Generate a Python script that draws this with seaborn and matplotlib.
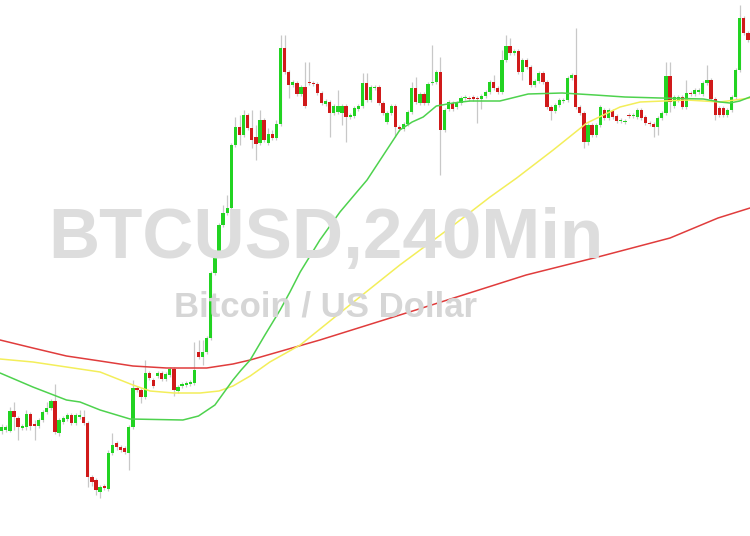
import matplotlib
matplotlib.use("Agg")
import matplotlib.pyplot as plt
import numpy as np
import pandas as pd
import seaborn as sns

# BTCUSD 240 min candles, one entry per bar
opens = [
    9569, 9570, 9569, 9589, 9582, 9572, 9573, 9586, 9576, 9574,
    9580, 9588, 9592, 9599, 9567, 9578, 9581, 9585, 9577, 9583,
    9583, 9577, 9523, 9520, 9508, 9514, 9511, 9547, 9557, 9553,
    9552, 9547, 9573, 9612, 9610, 9603, 9627, 9620, 9624, 9627,
    9621, 9625, 9631, 9609, 9614, 9615, 9616, 9617, 9648, 9643,
    9648, 9662, 9727, 9748, 9775, 9787, 9792, 9855, 9873, 9865,
    9885, 9872, 9863, 9857, 9880, 9857, 9866, 9862, 9876, 9952,
    9928, 9915, 9917, 9906, 9913, 9918, 9917, 9916, 9907, 9896,
    9898, 9887, 9888, 9887, 9894, 9883, 9884, 9891, 9894, 9917,
    9900, 9912, 9913, 9897, 9878, 9887, 9894, 9873, 9871, 9876,
    9888, 9912, 9897, 9906, 9897, 9917, 9918, 9928, 9870, 9891,
    9897, 9893, 9897, 9902, 9902, 9903, 9902, 9901, 9904, 9908,
    9918, 9912, 9908, 9940, 9954, 9947, 9949, 9928, 9940, 9933,
    9915, 9919, 9927, 9918, 9893, 9889, 9895, 9899, 9900, 9922,
    9925, 9893, 9887, 9858, 9875, 9865, 9875, 9890, 9882, 9889,
    9884, 9879, 9878, 9885, 9884, 9883, 9890, 9883, 9877, 9876,
    9873, 9882, 9887, 9924, 9894, 9900, 9903, 9893, 9907, 9906,
    9908, 9906, 9917, 9920, 9901, 9892, 9892, 9885, 9890, 9903,
    9930, 9982, 9967,
]
closes = [
    9573, 9573, 9589, 9583, 9573, 9574, 9586, 9574, 9574, 9580,
    9588, 9592, 9599, 9568, 9580, 9582, 9585, 9577, 9585, 9585,
    9577, 9523, 9518, 9510, 9513, 9512, 9547, 9555, 9553, 9550,
    9548, 9573, 9612, 9610, 9603, 9627, 9622, 9614, 9627, 9621,
    9626, 9631, 9610, 9613, 9616, 9617, 9618, 9630, 9643, 9648,
    9662, 9727, 9748, 9775, 9787, 9792, 9855, 9873, 9865, 9885,
    9872, 9860, 9856, 9880, 9860, 9866, 9862, 9876, 9952, 9928,
    9915, 9918, 9906, 9913, 9894, 9917, 9916, 9907, 9897, 9899,
    9887, 9894, 9894, 9894, 9883, 9885, 9892, 9894, 9917, 9900,
    9913, 9913, 9897, 9887, 9887, 9894, 9873, 9871, 9876, 9888,
    9912, 9898, 9906, 9897, 9916, 9918, 9928, 9870, 9890, 9898,
    9891, 9897, 9902, 9903, 9901, 9901, 9901, 9904, 9908, 9918,
    9912, 9908, 9940, 9954, 9947, 9949, 9928, 9940, 9933, 9915,
    9919, 9927, 9918, 9893, 9889, 9895, 9900, 9900, 9922, 9925,
    9893, 9887, 9858, 9875, 9865, 9875, 9893, 9882, 9890, 9883,
    9879, 9880, 9879, 9884, 9885, 9890, 9882, 9877, 9876, 9873,
    9882, 9887, 9924, 9898, 9903, 9903, 9893, 9907, 9906, 9910,
    9910, 9917, 9920, 9901, 9885, 9885, 9885, 9890, 9903, 9930,
    9982, 9967, 9960,
]
highs = [
    9576, 9575, 9593, 9598, 9584, 9576, 9590, 9588, 9580, 9582,
    9590, 9598, 9601, 9616, 9582, 9584, 9587, 9587, 9587, 9590,
    9590, 9579, 9525, 9522, 9515, 9516, 9550, 9567, 9559, 9555,
    9554, 9575, 9620, 9614, 9612, 9640, 9629, 9622, 9629, 9629,
    9628, 9633, 9633, 9615, 9618, 9619, 9620, 9658, 9660, 9660,
    9664, 9729, 9750, 9777, 9795, 9805, 9857, 9883, 9885, 9890,
    9887, 9890, 9875, 9890, 9882, 9872, 9870, 9880, 9965, 9965,
    9930, 9920, 9919, 9915, 9938, 9938, 9919, 9918, 9909, 9901,
    9900, 9896, 9910, 9896, 9896, 9887, 9894, 9896, 9927, 9927,
    9915, 9915, 9915, 9899, 9889, 9896, 9896, 9875, 9878, 9890,
    9918, 9923, 9908, 9908, 9918, 9955, 9930, 9943, 9892, 9900,
    9899, 9899, 9904, 9905, 9904, 9905, 9904, 9906, 9910, 9920,
    9925, 9914, 9950, 9965, 9962, 9951, 9951, 9942, 9942, 9935,
    9921, 9929, 9929, 9920, 9895, 9897, 9902, 9902, 9924, 9927,
    9972, 9895, 9889, 9877, 9877, 9877, 9895, 9892, 9892, 9891,
    9886, 9882, 9881, 9887, 9887, 9892, 9892, 9885, 9879, 9878,
    9884, 9889, 9938, 9938, 9905, 9905, 9905, 9920, 9909, 9912,
    9912, 9919, 9935, 9922, 9903, 9894, 9894, 9892, 9905, 9932,
    9995, 9984, 9969,
]
lows = [
    9566, 9568, 9568, 9570, 9560, 9570, 9570, 9570, 9560, 9572,
    9578, 9586, 9590, 9566, 9564, 9576, 9579, 9575, 9575, 9581,
    9575, 9513, 9514, 9505, 9502, 9510, 9509, 9545, 9550, 9548,
    9546, 9530, 9571, 9608, 9597, 9601, 9620, 9612, 9622, 9619,
    9619, 9623, 9604, 9607, 9612, 9613, 9614, 9615, 9641, 9635,
    9646, 9660, 9725, 9746, 9773, 9785, 9790, 9853, 9855, 9863,
    9870, 9852, 9840, 9855, 9858, 9855, 9860, 9860, 9874, 9926,
    9902, 9913, 9904, 9904, 9892, 9915, 9914, 9905, 9895, 9894,
    9863, 9885, 9886, 9875, 9858, 9881, 9882, 9889, 9892, 9898,
    9898, 9910, 9895, 9885, 9876, 9885, 9863, 9869, 9869, 9874,
    9886, 9896, 9895, 9895, 9895, 9915, 9916, 9825, 9868, 9889,
    9889, 9891, 9895, 9900, 9899, 9899, 9877, 9891, 9902, 9906,
    9910, 9906, 9906, 9938, 9945, 9945, 9926, 9920, 9931, 9913,
    9913, 9917, 9916, 9891, 9880, 9887, 9893, 9897, 9898, 9920,
    9891, 9885, 9852, 9855, 9863, 9863, 9873, 9880, 9880, 9881,
    9877, 9877, 9876, 9882, 9882, 9881, 9880, 9875, 9874, 9863,
    9865, 9880, 9885, 9888, 9892, 9898, 9891, 9891, 9904, 9904,
    9906, 9904, 9915, 9899, 9880, 9883, 9883, 9883, 9888, 9901,
    9928, 9965, 9958,
]

# moving averages, sampled along the bar index
ma_fast_idx = [-0.4, 7.6, 15.8, 19.1, 24, 31.3, 44.2, 48, 52, 56.4, 58.4, 60.6,
               64.2, 67.9, 70.3, 72.8, 77.6, 82.5, 86.2, 89.1, 92.3, 97.1,
               100.1, 102.8, 106, 110.1, 114.2, 121.5, 128.4, 136.7, 144.7,
               152, 160.6, 171.1, 175.2, 177.6, 180, 182.5]
ma_fast = [9627, 9613, 9600, 9598, 9590, 9581, 9580, 9584, 9595, 9620, 9630, 9640,
           9665, 9690, 9708, 9728, 9760, 9788, 9806, 9820, 9840, 9870,
           9878, 9883, 9894, 9897, 9899, 9899, 9906, 9907, 9905,
           9903, 9902, 9901, 9898, 9897, 9899, 9903]

ma_mid_idx = [-0.4, 7.6, 24, 32, 36.2, 42, 48.4, 53, 56.4, 60.6, 65.4, 72.8,
              84.9, 97.1, 109.3, 119.1, 125.6, 134.5, 142.7, 150.8, 155.7,
              167.1, 175.2, 182.5]
ma_mid = [9641, 9638, 9628, 9615, 9609, 9607, 9607, 9609, 9614, 9624, 9638, 9655,
          9695, 9735, 9772, 9803, 9822, 9850, 9877, 9893, 9898,
          9900, 9898, 9902]

ma_slow_idx = [-0.4, 7.6, 15.8, 24, 32, 40.2, 50, 56.4, 60.6, 77.6,
               101, 127.9, 145.4, 163, 174.7, 182.5]
ma_slow = [9660, 9652, 9644, 9639, 9634, 9632, 9632, 9636, 9640, 9660,
           9690, 9725, 9743, 9762, 9782, 9792]

UP = "#22d322"
DOWN = "#d01a1a"
WICK = "#c8c8c8"

sns.set_theme(style="white")
plt.rcParams['font.family'] = ['Liberation Sans', 'DejaVu Sans']

bars = pd.DataFrame({"open": opens, "high": highs, "low": lows, "close": closes})
bars["idx"] = np.arange(len(bars))
bars["up"] = bars["close"] >= bars["open"]
body = (bars["close"] - bars["open"]).abs().clip(lower=1.5)
bottom = bars[["open", "close"]].min(axis=1)

fig = plt.figure(figsize=(7.5, 5.36), dpi=100, facecolor="white")
ax = fig.add_axes([0, 0, 1, 1])
ax.set_axis_off()

# watermark
fig.text(0.434, 0.5187, "BTCUSD,240Min", ha="center", va="baseline",
         fontsize=51, fontweight="bold", color="#dddddd", zorder=0)
fig.text(0.434, 0.409, "Bitcoin / US Dollar", ha="center", va="baseline",
         fontsize=25, fontweight="bold", color="#d6d6d6", zorder=0)

# candles
ax.vlines(bars["idx"], bars["low"], bars["high"], color=WICK, linewidth=0.9, zorder=2)
colors = np.where(bars["up"], UP, DOWN)
ax.bar(bars["idx"], body, bottom=bottom, width=0.8, color=colors,
       linewidth=0, zorder=3)

# moving averages
sns.lineplot(x=ma_slow_idx, y=ma_slow, ax=ax, color="#e03c3c", linewidth=1.1, zorder=4)
sns.lineplot(x=ma_mid_idx, y=ma_mid, ax=ax, color="#f3ee5a", linewidth=1.1, zorder=4)
sns.lineplot(x=ma_fast_idx, y=ma_fast, ax=ax, color="#4ed24e", linewidth=1.1, zorder=4)

ax.set_xlim(-0.415, 182.5)
ax.set_ylim(9464, 10000)

fig.savefig("out.png", dpi=100, facecolor="white")
